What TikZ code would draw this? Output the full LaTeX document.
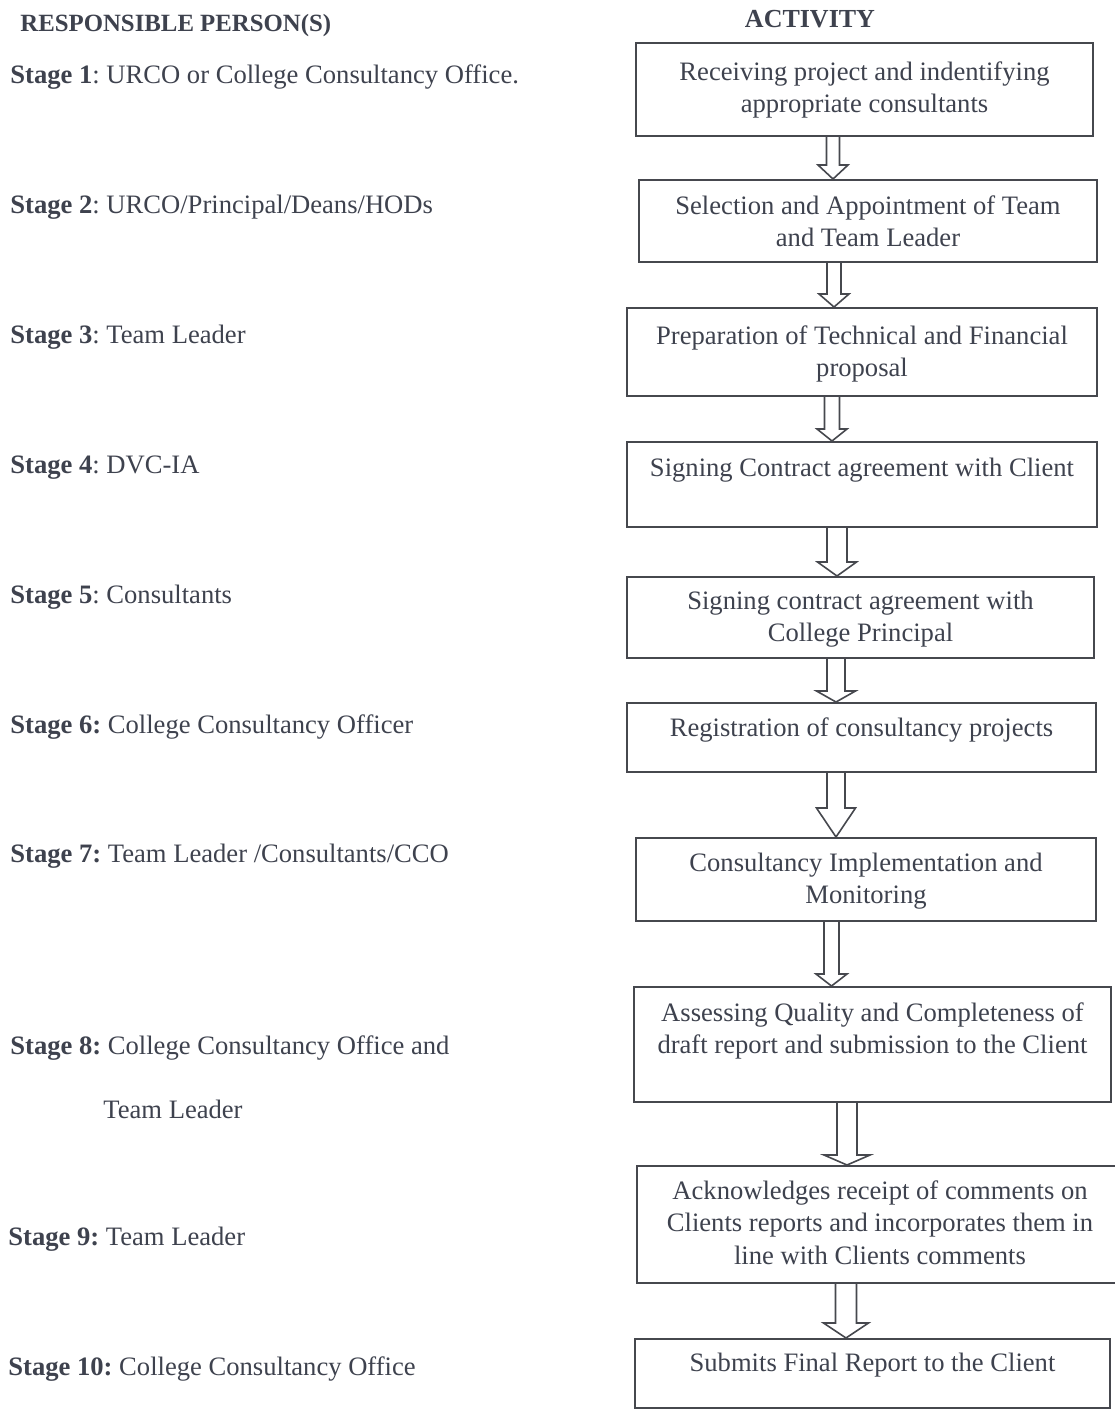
\documentclass[tikz,border=0pt]{standalone}
\usepackage{fontspec}
\setmainfont{Liberation Serif}
\usetikzlibrary{calc,fit}
\definecolor{ink}{RGB}{62,66,78}
\definecolor{rule}{RGB}{70,72,78}
\frenchspacing
\tikzset{
  txt/.style={font=\fontsize{13.3}{16.3}\selectfont, text=ink, inner sep=0pt},
  headtxt/.style={font=\fontsize{12.4}{15}\selectfont\bfseries, text=ink, inner sep=0pt},
  actbox/.style={draw=rule, line width=1pt, inner sep=0pt},
  blockarrow/.style={draw=rule, line width=0.8pt, fill=white, line join=miter},
}
\newcommand\flowarrow[6]{%
  \draw[blockarrow] ($(#3,0 |- #1.south)+(-#4,0)$) -- ($(#3,0 |- #2.north)+(-#4,-#6)$)
    -- ($(#3,0 |- #2.north)+(-#5,-#6)$) -- (#3,0 |- #2.north)
    -- ($(#3,0 |- #2.north)+(#5,-#6)$) -- ($(#3,0 |- #2.north)+(#4,-#6)$)
    -- ($(#3,0 |- #1.south)+(#4,0)$);}
\newcommand\lines[1]{\begin{tabular}[t]{@{}c@{}}#1\end{tabular}}
\begin{document}
\begin{tikzpicture}[x=0.5pt,y=-0.5pt]
\useasboundingbox[fill=white] (0,0) rectangle (1115,1410);

% headings
\node[headtxt, anchor=base west] (hresp) at (20,31) {RESPONSIBLE PERSON(S)};
\node[headtxt, font=\fontsize{13}{15}\selectfont\bfseries, anchor=base] (hact) at (810,27) {ACTIVITY};

% responsible persons
\node[txt, anchor=base west] (s1) at (10,83) {\textbf{Stage 1}: URCO or College Consultancy Office.};
\node[txt, anchor=base west] (s2) at (10,213) {\textbf{Stage 2}: URCO/Principal/Deans/HODs};
\node[txt, anchor=base west] (s3) at (10,343) {\textbf{Stage 3}: Team Leader};
\node[txt, anchor=base west] (s4) at (10,473) {\textbf{Stage 4}: DVC-IA};
\node[txt, anchor=base west] (s5) at (10,603) {\textbf{Stage 5}: Consultants};
\node[txt, anchor=base west] (s6) at (10,733) {\textbf{Stage 6:} College Consultancy Officer};
\node[txt, anchor=base west] (s7) at (10,862) {\textbf{Stage 7:} Team Leader /Consultants/CCO};
\node[txt, anchor=base west] (s8) at (10,1054) {\textbf{Stage 8:} College Consultancy Office and};
\node[txt, anchor=base west] (s8b) at (103,1118) {Team Leader};
\node[txt, anchor=base west] (s9) at (8,1245) {\textbf{Stage 9:} Team Leader};
\node[txt, anchor=base west] (s10) at (8,1375) {\textbf{Stage 10:} College Consultancy Office};

% activity boxes
\node[actbox, fit={(636,43) (1093,136)}] (b1) {};
\node[actbox, fit={(639,180) (1097,262)}] (b2) {};
\node[actbox, fit={(627,308) (1097,396)}] (b3) {};
\node[actbox, fit={(627,442) (1097,527)}] (b4) {};
\node[actbox, fit={(627,577) (1094,658)}] (b5) {};
\node[actbox, fit={(627,703) (1096,772)}] (b6) {};
\node[actbox, fit={(636,838) (1096,921)}] (b7) {};
\node[actbox, fit={(634,987) (1111,1102)}] (b8) {};
\node[actbox, fit={(637,1166) (1123,1283)}] (b9) {};
\node[actbox, fit={(635,1339) (1110,1408)}] (b10) {};

% activity texts
\node[txt, anchor=base] (t1) at ($(b1.north)+(0,38)$) {\lines{Receiving project and indentifying\\ appropriate consultants}};
\node[txt, anchor=base] (t2) at ($(b2.north)+(0,35)$) {\lines{Selection and Appointment of Team\\ and Team Leader}};
\node[txt, anchor=base] (t3) at ($(b3.north)+(0,37)$) {\lines{Preparation of Technical and Financial\\ proposal}};
\node[txt, anchor=base] (t4) at ($(b4.north)+(0,35)$) {Signing Contract agreement with Client};
\node[txt, anchor=base] (t5) at ($(b5.north)+(0,33)$) {\lines{Signing contract agreement with\\ College Principal}};
\node[txt, anchor=base] (t6) at ($(b6.north)+(0,34)$) {Registration of consultancy projects};
\node[txt, anchor=base] (t7) at ($(b7.north)+(0,34)$) {\lines{Consultancy Implementation and\\ Monitoring}};
\node[txt, anchor=base] (t8) at ($(b8.north)+(0,35)$) {\lines{Assessing Quality and Completeness of\\ draft report and submission to the Client}};
\node[txt, anchor=base] (t9) at ($(b9.north)+(0,34)$) {\lines{Acknowledges receipt of comments on\\ Clients reports and incorporates them in\\ line with Clients comments}};
\node[txt, anchor=base] (t10) at ($(b10.north)+(0,33)$) {Submits Final Report to the Client};

% block arrows: from, to, centre x, half shaft, half head, head length
\flowarrow{b1}{b2}{833}{6.5}{15}{14}
\flowarrow{b2}{b3}{834}{7}{15}{13}
\flowarrow{b3}{b4}{832}{7.5}{15}{12}
\flowarrow{b4}{b5}{837}{10}{19.5}{14}
\flowarrow{b5}{b6}{836}{9}{19.5}{11}
\flowarrow{b6}{b7}{836}{9}{19.5}{29}
\flowarrow{b7}{b8}{831.5}{7.5}{15.5}{12}
\flowarrow{b8}{b9}{847}{10}{23}{10}
\flowarrow{b9}{b10}{846}{10.5}{22.5}{15}
\end{tikzpicture}
\end{document}
